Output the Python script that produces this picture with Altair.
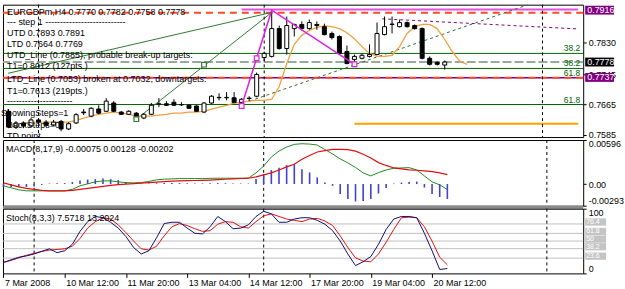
import altair as alt
import pandas as pd

FONT = "Liberation Sans"
GREEN = "#006400"
PURPLE = "#800080"

# ---------------- data (EURGBPm H4, bar 0 = 7 Mar 2008 08:00) ----------------
c_open = [0.7647, 0.7605, 0.7616, 0.7608, 0.7624, 0.7618, 0.7610, 0.7620, 0.7600, 0.7616,
          0.7645, 0.7634, 0.7653, 0.7647, 0.7669, 0.7645, 0.7639, 0.7642, 0.7629, 0.7639,
          0.7666, 0.7667, 0.7671, 0.7665, 0.7663, 0.7661, 0.7645, 0.7669, 0.7683, 0.7683,
          0.7683, 0.7670, 0.7682, 0.7687, 0.7790, 0.7793, 0.7867, 0.7814, 0.7867, 0.7878,
          0.7867, 0.7878, 0.7872, 0.7854, 0.7846, 0.7806, 0.7785, 0.7788, 0.7793, 0.7798,
          0.7851, 0.7878, 0.7872, 0.7883, 0.7875, 0.7867, 0.7788, 0.7777, 0.7770]
c_high = [0.7653, 0.7621, 0.7618, 0.7629, 0.7629, 0.7624, 0.7624, 0.7624, 0.7618, 0.7642,
          0.7653, 0.7658, 0.7663, 0.7682, 0.7674, 0.7647, 0.7650, 0.7645, 0.7642, 0.7669,
          0.7682, 0.7674, 0.7679, 0.7671, 0.7666, 0.7663, 0.7671, 0.7690, 0.7695, 0.7698,
          0.7698, 0.7682, 0.7687, 0.7750, 0.7806, 0.7916, 0.7875, 0.7899, 0.7880, 0.7886,
          0.7891, 0.7886, 0.7880, 0.7859, 0.7849, 0.7822, 0.7798, 0.7801, 0.7825, 0.7883,
          0.7899, 0.7899, 0.7891, 0.7886, 0.7878, 0.7870, 0.7793, 0.7780, 0.7782]
c_low = [0.7602, 0.7600, 0.7602, 0.7605, 0.7613, 0.7605, 0.7608, 0.7594, 0.7597, 0.7613,
         0.7637, 0.7631, 0.7639, 0.7645, 0.7645, 0.7637, 0.7637, 0.7626, 0.7626, 0.7637,
         0.7658, 0.7661, 0.7661, 0.7661, 0.7653, 0.7645, 0.7642, 0.7666, 0.7676, 0.7676,
         0.7669, 0.7663, 0.7674, 0.7684, 0.7780, 0.7790, 0.7811, 0.7798, 0.7846, 0.7862,
         0.7864, 0.7864, 0.7849, 0.7838, 0.7798, 0.7772, 0.7772, 0.7785, 0.7790, 0.7796,
         0.7849, 0.7854, 0.7870, 0.7870, 0.7864, 0.7785, 0.7769, 0.7769, 0.7758]
c_close = [0.7605, 0.7616, 0.7608, 0.7624, 0.7618, 0.7610, 0.7618, 0.7600, 0.7614, 0.7638,
           0.7643, 0.7655, 0.7642, 0.7674, 0.7647, 0.7639, 0.7647, 0.7629, 0.7639, 0.7663,
           0.7667, 0.7663, 0.7663, 0.7664, 0.7655, 0.7647, 0.7669, 0.7687, 0.7684, 0.7684,
           0.7670, 0.7679, 0.7681, 0.7745, 0.7801, 0.7867, 0.7814, 0.7875, 0.7878, 0.7867,
           0.7883, 0.7875, 0.7851, 0.7843, 0.7801, 0.7774, 0.7793, 0.7796, 0.7798, 0.7854,
           0.7872, 0.7879, 0.7883, 0.7872, 0.7867, 0.7788, 0.7772, 0.7772, 0.7778]
ma_line = [0.7610, 0.7613, 0.7615, 0.7618, 0.7618, 0.7618, 0.7618, 0.7618, 0.7618, 0.7623,
           0.7629, 0.7634, 0.7639, 0.7642, 0.7645, 0.7642, 0.7639, 0.7634, 0.7634, 0.7634,
           0.7637, 0.7639, 0.7642, 0.7642, 0.7645, 0.7645, 0.7647, 0.7653, 0.7658, 0.7663,
           0.7669, 0.7671, 0.7674, 0.7676, 0.7676, 0.7679, 0.7713, 0.7774, 0.7825, 0.7849,
           0.7862, 0.7870, 0.7874, 0.7872, 0.7867, 0.7856, 0.7840, 0.7819, 0.7801, 0.7793,
           0.7793, 0.7796, 0.7819, 0.7854, 0.7872, 0.7878, 0.7878, 0.7867, 0.7838, 0.7806,
           0.7780, 0.7772]

macd_main = [-0.00024, -0.00051, -0.00078, -0.00092, -0.00092, -0.00092, -0.00092, -0.00092, -0.00092, -0.00071,
             -0.00024, 0.00003, 0.00030, 0.00043, 0.00043, 0.00030, 0.00020, 0.00016, 0.00020, 0.00036,
             0.00057, 0.00066, 0.00070, 0.00074, 0.00074, 0.00074, 0.00074, 0.00077, 0.00079, 0.00079,
             0.00079, 0.00079, 0.00079, 0.00151, 0.00245, 0.00366, 0.00446, 0.00501, 0.00537, 0.00546,
             0.00541, 0.00528, 0.00467, 0.00407, 0.00340, 0.00286, 0.00225, 0.00151, 0.00110, 0.00155,
             0.00191, 0.00214, 0.00218, 0.00222, 0.00191, 0.00110, 0.00030, -0.00011, -0.00075]
macd_signal = [0.00016, -0.00011, -0.00038, -0.00058, -0.00071, -0.00085, -0.00092, -0.00092, -0.00092, -0.00085,
               -0.00071, -0.00058, -0.00044, -0.00031, -0.00018, -0.00008, 0.00000, 0.00007, 0.00013, 0.00020,
               0.00026, 0.00032, 0.00039, 0.00043, 0.00046, 0.00048, 0.00051, 0.00054, 0.00059, 0.00065,
               0.00070, 0.00075, 0.00079, 0.00097, 0.00124, 0.00151, 0.00191, 0.00232, 0.00268, 0.00336,
               0.00387, 0.00434, 0.00453, 0.00470, 0.00470, 0.00467, 0.00445, 0.00403, 0.00353, 0.00290,
               0.00252, 0.00218, 0.00205, 0.00191, 0.00187, 0.00178, 0.00168, 0.00151, 0.00128]
macd_hist = [-0.00040, -0.00040, -0.00040, -0.00040, -0.00034, -0.00013, 0.00007, 0.00011, 0.00013, 0.00027,
             0.00047, 0.00061, 0.00067, 0.00074, 0.00067, 0.00054, 0.00027, 0.00013, 0.00007, 0.00007,
             0.00011, 0.00013, 0.00013, 0.00013, 0.00011, 0.00007, 0.00007, 0.00011, 0.00013, 0.00011,
             0.00007, 0.00007, 0.00007, 0.00067, 0.00135, 0.00189, 0.00222, 0.00256, 0.00269, 0.00202,
             0.00158, 0.00090, 0.00020, -0.00024, -0.00135, -0.00202, -0.00236, -0.00229, -0.00202, -0.00128,
             -0.00054, 0.00007, 0.00020, 0.00027, 0.00034, -0.00047, -0.00135, -0.00175, -0.00202]

stoch_main = [17, 21, 25, 27, 30, 34, 38, 32, 35, 45,
              65, 80, 88, 86, 79, 70, 57, 40, 30, 35,
              55, 77, 79, 79, 70, 62, 61, 72, 88, 80,
              69, 70, 75, 88, 96, 92, 79, 79, 84, 86,
              86, 82, 76, 66, 50, 30, 12, 18, 26, 45,
              68, 84, 88, 88, 86, 62, 35, 6, 7.57]
stoch_signal = [17, 20, 24, 28, 31, 34, 36, 37, 38, 42,
                54, 70, 80, 86, 84, 75, 63, 50, 38, 36,
                42, 58, 72, 77, 74, 69, 65, 66, 76, 80,
                79, 72, 70, 80, 89, 92, 88, 84, 82, 80,
                84, 85, 81, 74, 58, 40, 24, 19, 18, 30,
                48, 68, 86, 87, 86, 72, 50, 25, 13.2]

date_ticks = [0, 8, 16, 24, 32, 40, 48, 56]
date_labels = ["7 Mar 2008", "10 Mar 12:00", "11 Mar 20:00", "13 Mar 04:00",
               "14 Mar 12:00", "17 Mar 20:00", "19 Mar 04:00", "20 Mar 12:00"]

price_ticks = [0.7830, 0.7745, 0.7665, 0.7585]
box_prices = [0.7916, 0.7778, 0.7737]
box_labels = ["0.7916", "0.7778", "0.7737"]
box_colors = [PURPLE, "#000000", PURPLE]

green_levels = [0.7801, 0.7761, 0.7665]
fib_prices = [0.7801, 0.7761, 0.7736, 0.7665]
fib_labels = ["38.2", "38.2", "61.8", "61.8"]
purple_levels = [0.7736]
red_dash_levels = [0.7909, 0.7736]
bid_levels = [0.7778]

XDOM = [-0.065, 75.75]
PDOM = [0.75785, 0.79306]
MDOM = [-0.00293, 0.00596]
SDOM = [0, 100]

top_line_start, top_line_price = 31, 0.7918
target_start, target_price = 46, 0.7614

trend_seg = ["a", "a", "b", "b"]
trend_i = [-0.065, 35, 17, 35]
trend_p = [0.7748, 0.7910, 0.7626, 0.7910]
dash_trend_i = [32.05, 69]
dash_trend_p = [0.7674, 0.7930]
purple_trend_i = [49.7, 75.75]
purple_trend_p = [0.7893, 0.7866]
green_sq_i = [17, 26]
green_sq_p = [0.7626, 0.7771]

zigzag_i = [31, 35, 46]
zigzag_p = [0.7661, 0.7916, 0.7772]
zz_mark_i = [31, 33, 46]
zz_mark_p = [0.7661, 0.7788, 0.7772]

vlines = [4, 34, 71]

macd_ticks = [-0.00293, 0.0, 0.00596]
stoch_levels = [76.4, 61.8, 50, 38.2, 23.6]
stoch_level_labels = ["76.4", "61.8", "50", "38.2", "23.6"]

info_lines = [
    "EURGBPm,H4  0.7770 0.7782 0.7758 0.7778",
    "---   step 1   ---------------------------",
    "UTD  0.7893  0.7891",
    "LTD  0.7664  0.7769",
    "UTD_Line (0.7885), probable break-up targets:",
    "T1=0.8012 (127pts.)",
    "LTD_Line (0.7053) broken at 0.7032, downtargets:",
    "T1=0.7613 (219pts.)",
    "----------------------",
    "ShowingSteps=1",
    "BackSteps=0",
    "TD point",
]

# ---------------- layout ----------------
W = 583
H1, H2, H3 = 133, 66, 65
LINE_Y = [7, 17.7, 28.7, 39.7, 51, 62, 74.7, 86.3, 97, 108.7, 121, 131.5]

xs = alt.Scale(domain=XDOM, nice=False, zero=False)
ps = alt.Scale(domain=PDOM, nice=False, zero=False)
ms = alt.Scale(domain=MDOM, nice=False, zero=False)
ss = alt.Scale(domain=SDOM, nice=False, zero=False)

axis_common = dict(title=None, domain=False, grid=False, tickColor="black", tickSize=3,
                   labelPadding=2, labelFont=FONT, labelFontSize=9, labelColor="black")
p_axis = alt.Axis(orient="right", values=price_ticks, format=".4f", labelFlush=False, **axis_common)
m_axis = alt.Axis(orient="right", values=macd_ticks, labelFlush=True,
                  labelExpr="datum.value == 0 ? '0.00' : (datum.value < 0 ? '-' : '') + format(abs(datum.value), '.5f')",
                  **axis_common)
s_axis = alt.Axis(orient="right", values=[0, 100], format="d", labelFlush=True, **axis_common)
date_expr = "[" + ",".join("'%s'" % s for s in date_labels) + "][round(datum.value / 8)]"
x_axis = alt.Axis(values=date_ticks, labelExpr=date_expr, labelAlign="left", labelBaseline="top",
                  labelOffset=1, tickSize=4, labelPadding=1, domain=False, grid=False, title=None,
                  labelOverlap=False, labelFlush=False, labelBound=False, labelFont=FONT,
                  labelFontSize=9, labelColor="black", tickColor="black")


def XP(f, axis=None):
    return alt.X(f, type="quantitative", scale=xs, axis=axis)


def YP(f):
    return alt.Y(f, type="quantitative", scale=ps, axis=p_axis)


def text_at(txt, x, y, size=9, color="black", **kw):
    return alt.Chart(pd.DataFrame({"t": [txt]})).mark_text(
        align="left", baseline="middle", font=FONT, fontSize=size, color=color, **kw
    ).encode(x=alt.value(x), y=alt.value(y), text="t:N")


n = len(c_open)
candles = pd.DataFrame({"i": list(range(n)), "o": c_open, "h": c_high, "l": c_low, "c": c_close})
candles["fill"] = ["#ffffff" if c >= o else "#000000" for o, c in zip(c_open, c_close)]
ma_df = pd.DataFrame({"i": list(range(len(ma_line))), "p": ma_line})
vl_df = pd.DataFrame({"v": vlines})

price_layers = [
    alt.Chart(pd.DataFrame({"p": green_levels})).mark_rule(color=GREEN, strokeWidth=1).encode(y=YP("p")),
    alt.Chart(pd.DataFrame({"p": purple_levels})).mark_rule(color=PURPLE, strokeWidth=1.5).encode(y=YP("p")),
    alt.Chart(pd.DataFrame({"p": red_dash_levels})).mark_rule(color="#ff4a2a", strokeWidth=2, strokeDash=[7, 5]).encode(y=YP("p")),
    alt.Chart(pd.DataFrame({"p": bid_levels})).mark_rule(color="#9aaa9a", strokeWidth=2, strokeDash=[9, 3]).encode(y=YP("p")),
    alt.Chart(pd.DataFrame({"i0": [top_line_start], "i1": [XDOM[1]], "p": [top_line_price]})).mark_rule(
        color="#e050e0", strokeWidth=2).encode(x=XP("i0"), x2="i1", y=YP("p")),
    alt.Chart(pd.DataFrame({"i0": [target_start], "i1": [XDOM[1]], "p": [target_price]})).mark_rule(
        color="#ffa000", strokeWidth=2).encode(x=XP("i0"), x2="i1", y=YP("p")),
    alt.Chart(pd.DataFrame({"s": trend_seg, "i": trend_i, "p": trend_p})).mark_line(
        color="#2f7a2f", strokeWidth=1).encode(x=XP("i"), y=YP("p"), detail="s:N"),
    alt.Chart(pd.DataFrame({"i": dash_trend_i, "p": dash_trend_p})).mark_line(
        color="#2f6f2f", strokeWidth=1, strokeDash=[3, 3], clip=True).encode(x=XP("i"), y=YP("p")),
    alt.Chart(pd.DataFrame({"i": purple_trend_i, "p": purple_trend_p})).mark_line(
        color=PURPLE, strokeWidth=1, strokeDash=[3, 3]).encode(x=XP("i"), y=YP("p")),
    alt.Chart(vl_df).mark_rule(color="black", strokeDash=[3, 3], strokeWidth=1).encode(x=XP("v")),
    alt.Chart(ma_df).mark_line(color="#f0a040", strokeWidth=1.3).encode(x=XP("i"), y=YP("p")),
    alt.Chart(candles).mark_rule(color="black", strokeWidth=1).encode(x=XP("i"), y=YP("l"), y2="h"),
    alt.Chart(candles).mark_bar(size=4, stroke="black", strokeWidth=1).encode(
        x=XP("i"), y=YP("o"), y2="c", fill=alt.Fill("fill:N", scale=None)),
    alt.Chart(pd.DataFrame({"i": zigzag_i, "p": zigzag_p})).mark_line(
        color="#e020e0", strokeWidth=1.5).encode(x=XP("i"), y=YP("p")),
    alt.Chart(pd.DataFrame({"i": zz_mark_i, "p": zz_mark_p})).mark_point(
        shape="square", size=22, filled=True, fill="white", stroke="#e020e0", strokeWidth=1.2, opacity=1
    ).encode(x=XP("i"), y=YP("p")),
    alt.Chart(pd.DataFrame({"i": green_sq_i, "p": green_sq_p})).mark_point(
        shape="square", size=22, filled=True, fill="white", stroke="#2f7a2f", strokeWidth=1.2, opacity=1
    ).encode(x=XP("i"), y=YP("p")),
    alt.Chart(pd.DataFrame({"p": fib_prices, "t": fib_labels})).mark_text(
        align="right", baseline="bottom", dy=0, font=FONT, fontSize=8.5, color=GREEN
    ).encode(x=alt.value(580), y=YP("p"), text="t:N"),
]
for txt, y in zip(info_lines, LINE_Y):
    price_layers.append(text_at(txt, -2 if txt.startswith("Showing") else 4, y, clip=(txt == "TD point")))

box_df = pd.DataFrame({"p": box_prices, "t": box_labels, "bg": box_colors})
price_layers += [
    alt.Chart(box_df).transform_calculate(lo="datum.p - 0.00118", hi="datum.p + 0.00118").mark_rect().encode(
        x=alt.value(585), x2=alt.value(614), y=YP("lo"), y2="hi", fill=alt.Fill("bg:N", scale=None)),
    alt.Chart(box_df).mark_text(align="left", baseline="middle", font=FONT, fontSize=9, color="white").encode(
        x=alt.value(587), y=YP("p"), text="t:N"),
]
price = alt.layer(*price_layers).properties(width=W, height=H1)

# ---------------- MACD ----------------
def YM(f):
    return alt.Y(f, type="quantitative", scale=ms, axis=m_axis)


macd_df = pd.DataFrame({"i": list(range(n)), "m": macd_main, "s": macd_signal, "h": macd_hist, "z": [0.0] * n})
macd = alt.layer(
    alt.Chart(vl_df).mark_rule(color="black", strokeDash=[3, 3], strokeWidth=1).encode(x=XP("v")),
    alt.Chart(macd_df).mark_rule(color="#4040d8", strokeWidth=1.6).encode(x=XP("i"), y=YM("h"), y2="z"),
    alt.Chart(macd_df).mark_line(color="#1f8a1f", strokeWidth=1).encode(x=XP("i"), y=YM("m")),
    alt.Chart(macd_df).mark_line(color="#e01010", strokeWidth=1.2).encode(x=XP("i"), y=YM("s")),
    text_at("MACD(8,17,9) -0.00075 0.00128 -0.00202", 3, 9),
    alt.Chart(pd.DataFrame({"a": [0]})).mark_rule(color="#8a8a8a", strokeWidth=3).encode(
        y=alt.value(H2 + 1.5), x=alt.value(0), x2=alt.value(W)),
).properties(width=W, height=H2)

# ---------------- Stochastic ----------------
def YS(f):
    return alt.Y(f, type="quantitative", scale=ss, axis=s_axis)


def XS(f):
    return alt.X(f, type="quantitative", scale=xs, axis=x_axis)


st_df = pd.DataFrame({"i": list(range(n)), "k": stoch_main, "d": stoch_signal})
lv_df = pd.DataFrame({"v": stoch_levels, "t": stoch_level_labels})
stoch = alt.layer(
    alt.Chart(lv_df).mark_rule(color="#c0c0c0", strokeWidth=1).encode(y=YS("v")),
    alt.Chart(vl_df).mark_rule(color="black", strokeDash=[3, 3], strokeWidth=1).encode(x=XS("v")),
    alt.Chart(st_df).mark_line(color="#e01010", strokeWidth=1).encode(x=XS("i"), y=YS("d")),
    alt.Chart(st_df).mark_line(color="#101070", strokeWidth=1).encode(x=XS("i"), y=YS("k")),
    text_at("Stoch(8,3,3) 7.5718 13.2024", 3, 9),
    alt.Chart(lv_df).transform_calculate(lo="datum.v - 2.6", hi="datum.v + 8.6").mark_rect(color="#c4c4c4").encode(
        x=alt.value(585), x2=alt.value(606), y=YS("lo"), y2="hi"),
    alt.Chart(lv_df).mark_text(align="left", baseline="middle", dy=-2, font=FONT, fontSize=7, color="white").encode(
        x=alt.value(586), y=YS("v"), text="t:N"),
).properties(width=W, height=H3)

chart = alt.vconcat(price, macd, stoch, spacing=3, bounds="flush").properties(
    padding={"left": 0, "top": 3, "right": 0, "bottom": 0}, background="white"
).configure_view(stroke="black", strokeWidth=1)

chart.save("out.html", embed_options={"renderer": "svg", "actions": False})
